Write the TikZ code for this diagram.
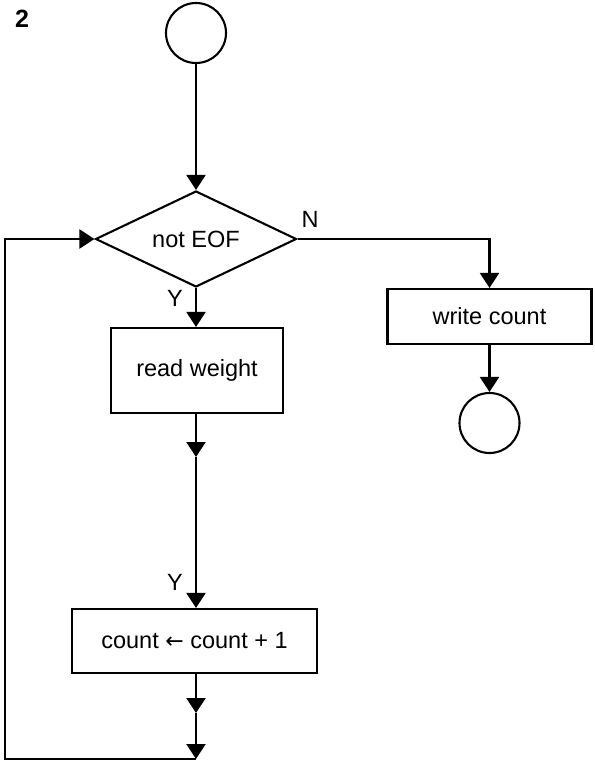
\documentclass[tikz,border=0pt]{standalone}
\usepackage{fontspec}
\setmainfont{Liberation Sans}
\newfontfamily\arrowfont{DejaVu Sans}
\usetikzlibrary{arrows.meta,shapes.geometric}
\tikzset{
  every node/.style={font=\fontsize{23.5}{28}\selectfont},
  ln/.style={line width=2.1pt, line join=miter},
  arr/.style={ln, -{Triangle[length=15pt,width=19pt]}},
  termcirc/.style={ln, draw, circle, minimum size=60pt, inner sep=0pt},
  procbox/.style={ln, draw, rectangle, inner sep=0pt},
  decis/.style={ln, draw, diamond, aspect=2.09, inner sep=0pt, minimum width=201pt, minimum height=96pt},
  lbl/.style={inner sep=0pt}
}
\begin{document}
\begin{tikzpicture}[x=1pt,y=1pt]
\useasboundingbox[fill=white] (0,0) rectangle (594,-762);
\node[lbl, font=\fontsize{25}{30}\selectfont\bfseries] (num) at (22,-19) {2};
\node[termcirc] (start) at (196,-33) {};
\node[decis] (dec) at (196,-239) {not EOF};
\node[procbox, minimum width=172pt, minimum height=85pt] (rw) at (197,-370.5) {read weight};
\node[procbox, minimum width=245pt, minimum height=64pt] (cb) at (194.5,-641) {count {\arrowfont\fontsize{22}{26}\selectfont ←} count + 1};
\node[procbox, minimum width=204pt, minimum height=55pt] (wc) at (489.5,-316.5) {write count};
\node[termcirc] (stop) at (489.5,-423) {};
\node[lbl] (n) at (310,-219) {N};
\node[lbl] (y1) at (175,-298) {Y};
\node[lbl] (y2) at (175,-582) {Y};
\coordinate (m1) at (196,-457);
\coordinate (m2) at (196,-713);
\coordinate (bot) at (196,-759);
\coordinate (bl) at (5,-759);
\draw[arr] (start.south) -- (dec.north);
\draw[arr] (dec.east) -| (wc.north);
\draw[arr] (wc.south) -- (stop.north);
\draw[arr] (dec.south) -- (dec.south |- rw.north);
\draw[arr] (dec.south |- rw.south) -- (m1);
\draw[arr] (m1) -- (m1 |- cb.north);
\draw[arr] (m1 |- cb.south) -- (m2);
\draw[arr] (m2) -- (bot);
\draw[arr] (bot) -- (bl) |- (dec.west);
\end{tikzpicture}
\end{document}
